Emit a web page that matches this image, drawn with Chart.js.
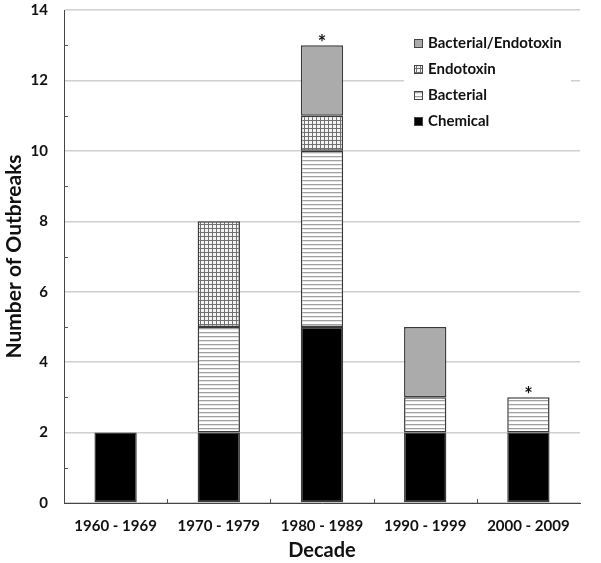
<!DOCTYPE html>
<html><head><meta charset="utf-8">
<script src="https://cdn.jsdelivr.net/npm/chart.js@4"></script>
<style>html,body{margin:0;padding:0;background:#fff}#wrap{width:601px;height:563px}</style>
</head><body><div id="wrap"><canvas id="c" width="601" height="563"></canvas></div>
<script>
const decades = ["1960 - 1969","1970 - 1979","1980 - 1989","1990 - 1999","2000 - 2009"];
const chemical = [2,2,5,2,2];
const bacterial = [0,3,5,1,1];
const endotoxin = [0,3,1,0,0];
const bactEndo = [0,0,2,2,0];
const starred = ["1980 - 1989","2000 - 2009"];
const yTicks = [0,2,4,6,8,10,12,14];

function hLines(){const c=document.createElement('canvas');c.width=8;c.height=4;const x=c.getContext('2d');x.fillStyle='#fff';x.fillRect(0,0,8,4);x.fillStyle='#a0a0a0';x.fillRect(0,0,8,1);x.fillStyle='#e4e4e4';x.fillRect(0,1,8,1);return x.createPattern(c,'repeat');}
function grid(){const c=document.createElement('canvas');c.width=4;c.height=4;const x=c.getContext('2d');x.fillStyle='#f4f4f4';x.fillRect(0,0,4,4);x.fillStyle='#707070';x.fillRect(0,0,4,1);x.fillRect(0,0,1,4);return x.createPattern(c,'repeat');}
const fills={Chemical:'#000',Bacterial:hLines(),Endotoxin:grid(),'Bacterial/Endotoxin':'#ababab'};
const series=[['Chemical',chemical],['Bacterial',bacterial],['Endotoxin',endotoxin],['Bacterial/Endotoxin',bactEndo]];

const FONT='Lato, "Open Sans", sans-serif';

const extras={id:'extras',
 afterDraw(chart){
  const c=chart.ctx,a=chart.chartArea,y=chart.scales.y,x=chart.scales.x;
  c.save();
  c.strokeStyle='#555';c.lineWidth=1;
  for(let v=1;v<14;v+=2){const py=Math.round(y.getPixelForValue(v))+0.5;c.beginPath();c.moveTo(a.left,py);c.lineTo(a.left+4,py);c.stroke();}
  for(let i=1;i<decades.length;i++){const px=Math.round((x.getPixelForValue(i-1)+x.getPixelForValue(i))/2)+0.5;c.beginPath();c.moveTo(px,a.bottom);c.lineTo(px,a.bottom-4);c.stroke();}
  c.fillStyle='#111';c.font='bold 20px '+FONT;c.textAlign='center';c.textBaseline='alphabetic';
  starred.forEach(d=>{const i=decades.indexOf(d);const tot=chemical[i]+bacterial[i]+endotoxin[i]+bactEndo[i];c.fillText('*',x.getPixelForValue(i),y.getPixelForValue(tot)+5);});
  const L=404,T=29,W=167,H=108;
  c.fillStyle='#fff';c.fillRect(L,T,W,H);
  c.font='bold 15px '+FONT;c.textAlign='left';c.textBaseline='middle';
  const items=[...series].reverse();
  items.forEach((s,k)=>{const cy=T+14+k*26;c.fillStyle=fills[s[0]];c.fillRect(L+10,cy-4,9,9);c.strokeStyle='#444';c.strokeRect(L+10.5,cy-3.5,8,8);c.fillStyle='#111';c.fillText(s[0],L+24,cy);});
  c.restore();
 }};

new Chart(document.getElementById('c'),{
 type:'bar',
 data:{labels:decades,datasets:series.map(([n,d])=>({label:n,data:d.map(v=>v||null),backgroundColor:fills[n],borderColor:'#3a3a3a',borderWidth:1.5,borderSkipped:false,barPercentage:0.82,categoryPercentage:0.5}))},
 options:{responsive:false,animation:false,
  layout:{padding:{top:10,right:21,left:0,bottom:0}},
  plugins:{legend:{display:false},tooltip:{enabled:false}},
  scales:{
   x:{stacked:true,afterFit(s){s.height=60;},grid:{display:false,drawTicks:false},border:{color:'#444',width:1},
      ticks:{color:'#111',font:{family:FONT,weight:'bold',size:15},padding:14},
      title:{display:true,text:'Decade',color:'#111',font:{family:FONT,weight:'bold',size:20},padding:{top:0,bottom:0}}},
   y:{stacked:true,min:0,max:14,afterFit(s){s.width=64;s.paddingTop=0;},afterBuildTicks(s){s.ticks=yTicks.map(v=>({value:v}));},
      grid:{color:'#cfcfcf',lineWidth:1.5,drawTicks:false},border:{color:'#444',width:1},
      ticks:{color:'#111',font:{family:FONT,weight:'bold',size:15},padding:16},
      title:{display:true,text:'Number of Outbreaks',color:'#111',font:{family:FONT,weight:'bold',size:21},padding:{top:2,bottom:0}}}
  }},
 plugins:[extras]
});
</script></body></html>
